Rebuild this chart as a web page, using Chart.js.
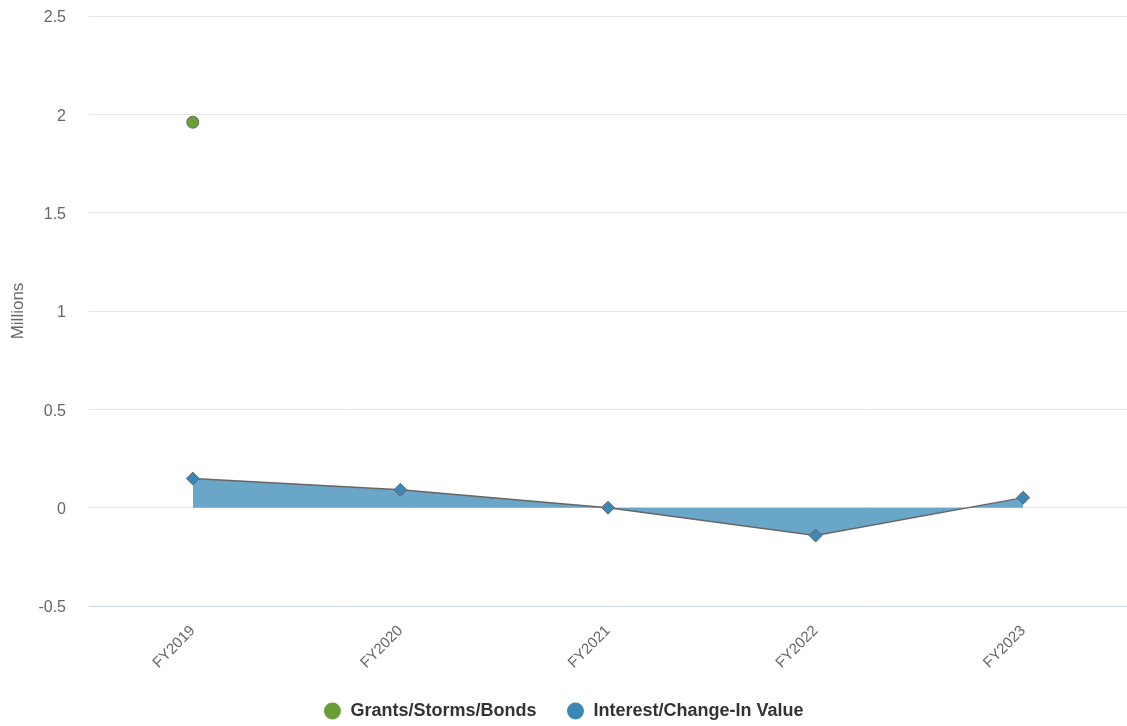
<!DOCTYPE html>
<html>
<head>
<meta charset="utf-8">
<script src="https://cdn.jsdelivr.net/npm/chart.js@4"></script>
<style>
  html, body { margin: 0; padding: 0; background: #fff; }
  #wrap { width: 1127px; height: 726px; }
</style>
</head>
<body>
<div id="wrap"><canvas id="chart"></canvas></div>
<script>
// values in millions
const years = ['FY2019', 'FY2020', 'FY2021', 'FY2022', 'FY2023'];
const grants = [1.96, null, null, null, null];
const interest = [0.148, 0.091, 0, -0.142, 0.051];
const yTicks = [-0.5, 0, 0.5, 1, 1.5, 2, 2.5];

const GREEN = '#6a9e36';
const BLUE = '#3b88b6';
const FONT = '"Liberation Sans", Arial, Helvetica, sans-serif';

Chart.defaults.font.family = FONT;
Chart.defaults.color = '#666';

const chart = new Chart(document.getElementById('chart'), {
    type: 'line',
    data: {
        labels: years,
        datasets: [
            {
                label: 'Grants/Storms/Bonds',
                data: grants,
                showLine: false,
                pointStyle: 'circle',
                pointRadius: 6,
                pointBackgroundColor: GREEN,
                pointBorderColor: '#666',
                pointBorderWidth: 1,
                backgroundColor: GREEN,
                borderColor: GREEN
            },
            {
                label: 'Interest/Change-In Value',
                data: interest,
                fill: 'origin',
                backgroundColor: 'rgba(106,166,200,1)',
                borderColor: '#666',
                borderWidth: 1.5,
                tension: 0,
                pointStyle: 'rectRot',
                pointRadius: 6.5,
                pointBackgroundColor: BLUE,
                pointBorderColor: '#666',
                pointBorderWidth: 1
            }
        ]
    },
    options: {
        responsive: true,
        maintainAspectRatio: false,
        animation: false,
        layout: { autoPadding: false, padding: { top: 16, right: 0, left: 0, bottom: -4 } },
        plugins: {
            tooltip: { enabled: false },
            legend: {
                position: 'bottom',
                labels: {
                    usePointStyle: true,
                    boxWidth: 18,
                    boxHeight: 12,
                    padding: 30,
                    color: '#333',
                    font: { size: 18, weight: 'bold', family: FONT },
                    generateLabels: c => c.data.datasets.map((ds, i) => ({
                        text: ds.label,
                        fillStyle: i === 0 ? GREEN : BLUE,
                        strokeStyle: i === 0 ? GREEN : BLUE,
                        lineWidth: 0,
                        pointStyle: 'circle',
                        datasetIndex: i,
                        hidden: false,
                        fontColor: '#333'
                    }))
                }
            }
        },
        scales: {
            x: {
                offset: true,
                grid: { display: false, drawTicks: false },
                border: { color: '#ccd6eb', width: 1 },
                ticks: {
                    minRotation: 45,
                    maxRotation: 45,
                    padding: 16,
                    color: '#666',
                    font: { size: 15 }
                },
                afterFit: s => { s.height = 66; }
            },
            y: {
                min: -0.5,
                max: 2.5,
                afterBuildTicks: s => { s.ticks = yTicks.map(v => ({ value: v })); },
                grid: { color: '#e6e6e6', drawTicks: true, tickLength: 23, tickColor: 'rgba(0,0,0,0)' },
                border: { display: false },
                ticks: {
                    padding: 0,
                    labelOffset: 2,
                    color: '#666',
                    font: { size: 16 },
                    callback: v => String(v)
                },
                title: {
                    display: true,
                    text: 'Millions',
                    color: '#666',
                    font: { size: 17 },
                    padding: { top: 8, bottom: 0 }
                },
                afterFit: s => { s.width = 89; }
            }
        }
    }
});
</script>
</body>
</html>
